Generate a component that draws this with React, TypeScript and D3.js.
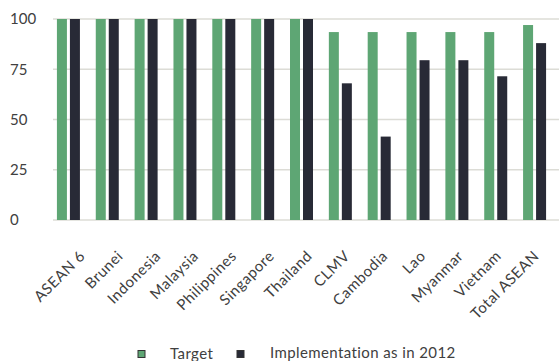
import React from "react";
import * as d3 from "d3";

const categories = ["ASEAN 6", "Brunei", "Indonesia", "Malaysia", "Philippines", "Singapore", "Thailand", "CLMV", "Cambodia", "Lao", "Myanmar", "Vietnam", "Total ASEAN"];
const target = [100, 100, 100, 100, 100, 100, 100, 93.5, 93.5, 93.5, 93.5, 93.5, 97];
const implementation = [100, 100, 100, 100, 100, 100, 100, 68, 41.5, 79.5, 79.5, 71.5, 88];
const yTicks = [0, 25, 50, 75, 100];
const seriesNames = ["Target", "Implementation as in 2012"];
const colors = ["#5EA674", "#282A36"];

const W = 559, H = 361;
const FONT = "Lato, 'Open Sans', sans-serif";

export default function App() {
  const x = d3.scaleBand<string>().domain(categories).range([49, 554]);
  const xLabel = d3.scalePoint<string>().domain(categories).range([86, 540]);
  const y = d3.scaleLinear().domain([0, 100]).range([220, 19]);
  const barW = 10;
  const gap = 3;
  return (
    <svg width={W} height={H} style={{ position: "absolute", left: 0, top: 0, background: "#fff" }} fontFamily={FONT}>
      {yTicks.map((t) => (
        <g key={t}>
          <line x1={53} x2={559} y1={y(t)} y2={y(t)} stroke="#dcdcd6" strokeWidth={1.5} />
          <text x={10} y={y(t)} dy="0.36em" fontSize={15} fill="#404040">{t}</text>
        </g>
      ))}
      {categories.map((c, i) => {
        const cx = (x(c) as number) + x.bandwidth() / 2;
        return (
          <g key={c}>
            <rect x={cx - gap / 2 - barW} y={y(target[i])} width={barW} height={y(0) - y(target[i])} fill={colors[0]} />
            <rect x={cx + gap / 2} y={y(implementation[i])} width={barW} height={y(0) - y(implementation[i])} fill={colors[1]} />
            <text
              transform={`translate(${xLabel(c)},${257}) rotate(-45)`}
              textAnchor="end"
              fontSize={15}
              letterSpacing={0.5}
              fill="#404040"
            >{c}</text>
          </g>
        );
      })}
      <g>
        <rect x={138} y={350.5} width={7} height={7} fill={colors[0]} stroke="#333" strokeWidth={1} />
        <text x={170} y={359} fontSize={15} letterSpacing={0.4} fill="#404040">{seriesNames[0]}</text>
        <rect x={237} y={350.5} width={7} height={7} fill={colors[1]} stroke="#333" strokeWidth={1} />
        <text x={270} y={358} fontSize={15} letterSpacing={0.4} fill="#404040">{seriesNames[1]}</text>
      </g>
    </svg>
  );
}
